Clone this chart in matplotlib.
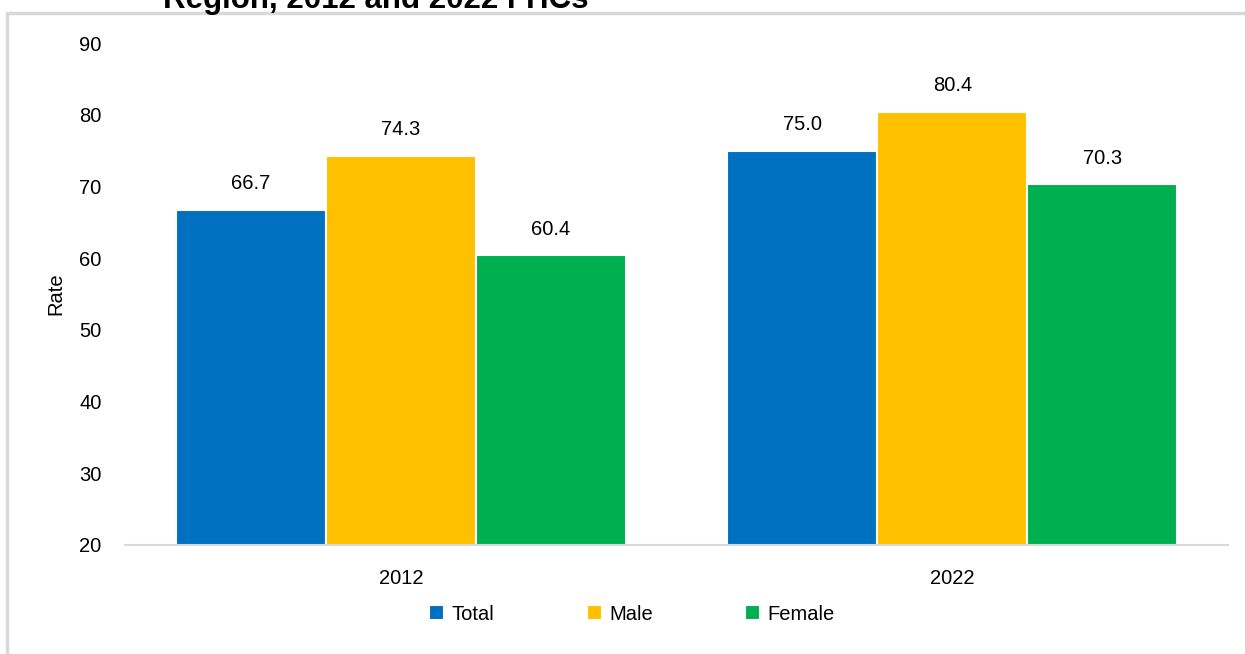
import matplotlib.pyplot as plt
from matplotlib.patches import Rectangle
import numpy as np

plt.rcParams['font.family'] = ['Liberation Sans Narrow', 'Liberation Sans', 'DejaVu Sans']

# Data
years = ['2012', '2022']
series = ['Total', 'Male', 'Female']
total = [66.7, 75.0]
male = [74.3, 80.4]
female = [60.4, 70.3]
colors = ['#0070C0', '#FFC000', '#00B050']

fig = plt.figure(figsize=(12.45, 6.54), dpi=100)
ax = fig.add_axes([125 / 1245, 1 - 545 / 654, 1103 / 1245, 502 / 654])

x = np.arange(len(years))
width = 0.272
for i, (vals, name, c) in enumerate(zip([total, male, female], series, colors)):
    bars = ax.bar(x + (i - 1) * width, vals, width, bottom=0, color=c, label=name,
                  edgecolor='white', linewidth=1.5)
    for b, v in zip(bars, vals):
        ax.annotate(f'{v:.1f}', (b.get_x() + b.get_width() / 2, v), xytext=(0, 12),
                    textcoords='offset points', ha='center', va='bottom', fontsize=14.5)

ax.set_ylim(20, 90)
ax.set_xlim(-0.5, 1.5)
ax.set_yticks(range(20, 91, 10))
ax.set_xticks(x)
ax.set_xticklabels(years)
ax.tick_params(axis='both', length=0, labelsize=14.5)
ax.tick_params(axis='y', pad=17)
ax.tick_params(axis='x', pad=17)
ax.set_ylabel('Rate', fontsize=14.5, labelpad=10)
for s in ['top', 'right', 'left']:
    ax.spines[s].set_visible(False)
ax.spines['bottom'].set_color('#d9d9d9')
ax.spines['bottom'].set_linewidth(1.5)

fig.legend(loc='center', bbox_to_anchor=(632 / 1245, 1 - 614 / 654), ncol=3,
           frameon=False, fontsize=14.5, handlelength=0.75, handleheight=0.75,
           handletextpad=0.35, columnspacing=4.6)

# chart border (partly outside the image)
fig.patches.append(Rectangle((7 / 1245, -0.1), 1.2, 1.1 - 13 / 654, transform=fig.transFigure,
                             fill=False, edgecolor='#d9d9d9', linewidth=2.5))

# last line of the title, cut at the top edge as in the reference
fig.text(163 / 1245, 1 - 8 / 654, 'Region, 2012 and 2022 FHCs', fontsize=22.5,
         fontweight='bold', family=['Liberation Sans', 'DejaVu Sans'], va='baseline')

plt.savefig('out.png')
